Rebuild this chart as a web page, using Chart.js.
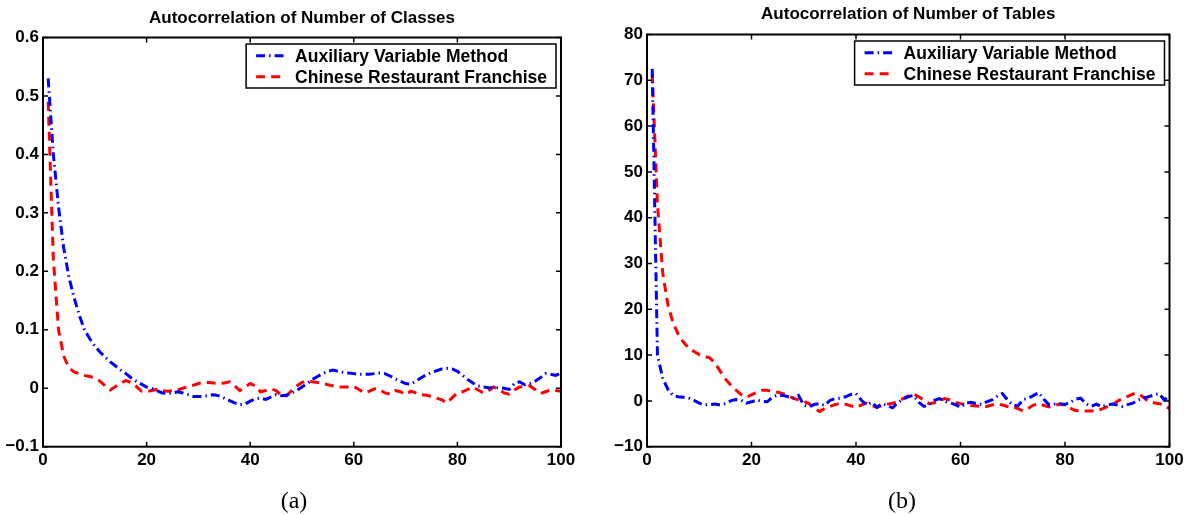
<!DOCTYPE html>
<html>
<head>
<meta charset="utf-8">
<script src="https://cdn.jsdelivr.net/npm/chart.js@4.4.0/dist/chart.umd.min.js"></script>
<style>
  body { margin: 0; background: #fff; width: 1190px; height: 515px; position: relative; overflow: hidden; }
  .panel { position: absolute; top: 0; }
  .caption { position: absolute; top: 486px; font-family: "Liberation Serif", "Times New Roman", serif; font-size: 24px; line-height: 28px; transform: translateX(-50%); }
</style>
</head>
<body>
<div class="panel" style="left:0px"><canvas id="classesChart" width="604" height="515"></canvas></div>
<div class="panel" style="left:600px"><canvas id="tablesChart" width="590" height="515"></canvas></div>
<div class="caption" style="left:294px">(a)</div>
<div class="caption" style="left:902px">(b)</div>

<script>
// Lags 1..100 (x positions)
const lags = Array.from({ length: 100 }, (_, i) => i + 1);
const xTicks = [0, 20, 40, 60, 80, 100];

const seriesNames = ['Auxiliary Variable Method', 'Chinese Restaurant Franchise'];

// (a) Autocorrelation of Number of Classes
const classesTicks = [-0.1, 0, 0.1, 0.2, 0.3, 0.4, 0.5, 0.6];
const classesAVM = [
    0.53, 0.40, 0.31, 0.24, 0.19, 0.155, 0.125, 0.10, 0.085, 0.072,
    0.062, 0.053, 0.045, 0.038, 0.031, 0.025, 0.018, 0.012, 0.007, 0.002,
    0.0, -0.004, -0.008, -0.009, -0.008, -0.006, -0.008, -0.011, -0.014, -0.014,
    -0.014, -0.012, -0.011, -0.013, -0.017, -0.021, -0.025, -0.028, -0.027, -0.022,
    -0.018, -0.017, -0.019, -0.015, -0.011, -0.013, -0.012, -0.008, -0.004, 0.002,
    0.008, 0.015, 0.020, 0.025, 0.029, 0.031, 0.029, 0.027, 0.026, 0.025,
    0.024, 0.024, 0.024, 0.025, 0.026, 0.025, 0.021, 0.016, 0.012, 0.008,
    0.007, 0.012, 0.018, 0.023, 0.027, 0.030, 0.033, 0.034, 0.033, 0.029,
    0.022, 0.015, 0.009, 0.004, 0.002, 0.001, 0.001, 0.001, 0.000, -0.002,
    0.008, 0.011, 0.006, 0.008, 0.012, 0.018, 0.025, 0.024, 0.022, 0.026
];
const classesCRF = [
    0.49, 0.22, 0.10, 0.055, 0.035, 0.028, 0.025, 0.022, 0.020, 0.018,
    0.012, 0.004, -0.003, 0.003, 0.009, 0.013, 0.010, 0.003, -0.005, -0.006,
    -0.004, -0.002, -0.004, -0.005, -0.004, -0.003, 0.000, 0.003, 0.005, 0.008,
    0.010, 0.010, 0.009, 0.008, 0.009, 0.011, 0.004, -0.004, 0.002, 0.008,
    0.004, -0.006, -0.004, -0.001, -0.004, -0.012, -0.013, -0.004, 0.004, 0.010,
    0.012, 0.011, 0.010, 0.008, 0.006, 0.004, 0.002, 0.002, 0.002, 0.003,
    -0.002, -0.008, -0.005, -0.001, -0.002, -0.008, -0.010, -0.004, -0.006, -0.011,
    -0.005, -0.008, -0.011, -0.012, -0.014, -0.017, -0.020, -0.025, -0.016, -0.008,
    -0.006, -0.002, 0.002, -0.003, -0.008, -0.004, 0.002, -0.002, -0.008, -0.010,
    -0.003, 0.002, 0.003, 0.004, -0.002, -0.009, -0.006, -0.003, -0.004, -0.005
];

// (b) Autocorrelation of Number of Tables
const tablesTicks = [-10, 0, 10, 20, 30, 40, 50, 60, 70, 80];
const tablesAVM = [
    72.5, 10, 5, 2.5, 1.2, 0.9, 0.8, 0.6, 0.1, -0.5,
    -0.9, -0.8, -0.7, -0.9, -0.6, 0, 0.3, 0.2, -0.5, -0.2,
    0.2, -0.1, -0.2, 0.8, 1.3, 1.2, 0.9, 0.6, 1.2, -0.9,
    -1.3, -0.8, -0.6, -1.0, 0.1, 0.5, 0.6, 0.9, 1.4, 1.6,
    0.2, -0.9, -0.3, -1.4, -0.6, -1.0, -1.5, -0.4, 0.4, 0.9,
    1.2, -0.3, -1.2, -0.9, 0.1, 0.5, -0.1, -0.4, -0.8, -1.4,
    -0.5, -0.3, -0.6, -0.8, -0.2, 0.2, 1.0, 1.6, 0.2, -0.9,
    -1.1, 0.3, 0.6, 1.2, 1.8, 0.3, -0.9, -0.7, -0.6, -0.8,
    -0.3, 0.4, 0.6, -0.6, -1.2, -0.7, -1.3, -0.9, -0.7, -0.9,
    -1.2, -0.8, -0.5, 0.2, 0.6, 0.9, 1.3, 1.6, 0.2, 1.2
];
const tablesCRF = [
    71.5, 43, 28, 21, 17, 14.5, 12.8, 11.5, 10.8, 10.1,
    9.7, 9.4, 8.3, 6.5, 4.8, 3.5, 2.4, 1.4, 0.8, 1.3,
    1.9, 2.3, 2.3, 2.1, 1.9, 1.6, 1.2, 0.6, 0.2, -0.1,
    -0.6, -1.6, -2.3, -1.7, -1.2, -0.8, -0.5, -0.7, -1.1, -1.4,
    -0.9, -0.5, -1.0, -1.4, -1.0, -0.7, -0.5, -0.2, 0.5, 1.1,
    1.5, 0.9, 0.2, -0.6, -0.4, 0.1, 0.5, 0.2, -0.3, -0.6,
    -0.8, -1.0, -1.1, -1.2, -1.2, -0.9, -0.6, -0.9, -1.2, -1.3,
    -1.7, -2.2, -1.6, -0.9, -0.6, -1.0, -1.3, -1.0, -0.7, -0.9,
    -1.6, -2.1, -2.2, -2.2, -2.2, -2.1, -1.8, -1.3, -0.9, -0.1,
    0.5, 1.0, 1.5, 1.6, 0.8, -0.2, -0.4, -0.6, -0.9, -1.7
];

const FONT = '"Liberation Sans", Arial, Helvetica, sans-serif';

// Box frame with inward ticks on all four sides (MATLAB style)
const framePlugin = {
    id: 'frame',
    afterDraw(chart) {
        const { ctx, chartArea: a, scales } = chart;
        const len = 5;
        ctx.save();
        ctx.strokeStyle = '#000';
        ctx.lineWidth = 1.5;
        ctx.beginPath();
        scales.x.ticks.forEach(t => {
            const px = scales.x.getPixelForValue(t.value);
            ctx.moveTo(px, a.bottom); ctx.lineTo(px, a.bottom - len);
            ctx.moveTo(px, a.top); ctx.lineTo(px, a.top + len);
        });
        scales.y.ticks.forEach(t => {
            const py = scales.y.getPixelForValue(t.value);
            ctx.moveTo(a.left, py); ctx.lineTo(a.left + len, py);
            ctx.moveTo(a.right, py); ctx.lineTo(a.right - len, py);
        });
        ctx.stroke();
        ctx.lineWidth = 2;
        ctx.strokeRect(a.left, a.top, a.right - a.left, a.bottom - a.top);
        ctx.restore();
    }
};

// Boxed legend in the top right corner of the plot area
const boxLegendPlugin = {
    id: 'boxLegend',
    afterDraw(chart) {
        const { ctx, chartArea: a } = chart;
        const sets = chart.data.datasets;
        ctx.save();
        ctx.font = 'bold 17.5px ' + FONT;
        const textW = Math.max(...sets.map(d => ctx.measureText(d.label).width));
        const w = 49 + textW + 9;
        const h = 44;
        const right = a.right - 5;
        const left = right - w;
        const top = a.top + 6.5;
        ctx.fillStyle = '#fff';
        ctx.fillRect(left, top, w, h);
        ctx.strokeStyle = '#000';
        ctx.lineWidth = 1.5;
        ctx.strokeRect(left, top, w, h);
        sets.forEach((d, i) => {
            const y = top + 11.7 + i * 21;
            ctx.strokeStyle = d.borderColor;
            ctx.lineWidth = d.borderWidth;
            ctx.setLineDash(d.borderDash);
            ctx.beginPath();
            ctx.moveTo(left + 10, y);
            ctx.lineTo(left + 39, y);
            ctx.stroke();
            ctx.setLineDash([]);
            ctx.fillStyle = '#000';
            ctx.textBaseline = 'middle';
            ctx.textAlign = 'left';
            ctx.fillText(d.label, left + 49, y + 1);
        });
        ctx.restore();
    }
};

function fmtTick(v) {
    if (Math.abs(v) < 1e-9) return '0';
    const s = Number.isInteger(Math.round(v * 1000) / 1000) ? String(Math.round(v)) : v.toFixed(1);
    return s.replace('-', '\u2212');
}

function makeChart(canvasId, cfg) {
    const ctx = document.getElementById(canvasId).getContext('2d');
    return new Chart(ctx, {
        type: 'line',
        data: {
            labels: lags,
            datasets: [
                {
                    label: seriesNames[0],
                    data: cfg.avm,
                    borderColor: '#0000ff',
                    borderWidth: 3,
                    borderDash: [9, 4, 1.5, 4],
                    pointRadius: 0,
                    tension: 0,
                    fill: false
                },
                {
                    label: seriesNames[1],
                    data: cfg.crf,
                    borderColor: '#ff0000',
                    borderWidth: 3,
                    borderDash: [9, 6],
                    pointRadius: 0,
                    tension: 0,
                    fill: false
                }
            ]
        },
        options: {
            responsive: false,
            animation: false,
            layout: { padding: { left: 0, right: cfg.padRight, top: 0, bottom: 0 } },
            plugins: {
                legend: { display: false },
                tooltip: { enabled: false },
                title: {
                    display: true,
                    text: cfg.title,
                    fullSize: false,
                    color: '#000',
                    font: { family: FONT, size: 17, weight: 'bold', lineHeight: 1.2 },
                    padding: cfg.titlePad
                }
            },
            scales: {
                x: {
                    type: 'linear',
                    min: 0,
                    max: 100,
                    afterBuildTicks: s => { s.ticks = xTicks.map(v => ({ value: v })); },
                    afterFit: s => { s.height = cfg.xAxisHeight; },
                    grid: { display: false, drawTicks: false },
                    border: { display: false },
                    ticks: {
                        color: '#000',
                        padding: 3,
                        maxRotation: 0,
                        font: { family: FONT, size: 17, weight: 'bold' },
                        callback: v => String(v)
                    }
                },
                y: {
                    type: 'linear',
                    min: cfg.yTicks[0],
                    max: cfg.yTicks[cfg.yTicks.length - 1],
                    afterBuildTicks: s => { s.ticks = cfg.yTicks.map(v => ({ value: v })); },
                    afterFit: s => { s.width = cfg.yAxisWidth; },
                    grid: { display: false, drawTicks: false },
                    border: { display: false },
                    ticks: {
                        color: '#000',
                        padding: 4,
                        font: { family: FONT, size: 17, weight: 'bold' },
                        callback: v => fmtTick(v)
                    }
                }
            }
        },
        plugins: [framePlugin, boxLegendPlugin]
    });
}

makeChart('classesChart', {
    title: 'Autocorrelation of Number of Classes',
    avm: classesAVM,
    crf: classesCRF,
    yTicks: classesTicks,
    yAxisWidth: 43,
    padRight: 43,
    xAxisHeight: 515 - 446.7,
    titlePad: { top: 7.8, bottom: 9.3 }
});

makeChart('tablesChart', {
    title: 'Autocorrelation of Number of Tables',
    avm: tablesAVM,
    crf: tablesCRF,
    yTicks: tablesTicks,
    yAxisWidth: 47,
    padRight: 20.5,
    xAxisHeight: 515 - 446.7,
    titlePad: { top: 4.3, bottom: 9.8 }
});
</script>
</body>
</html>
